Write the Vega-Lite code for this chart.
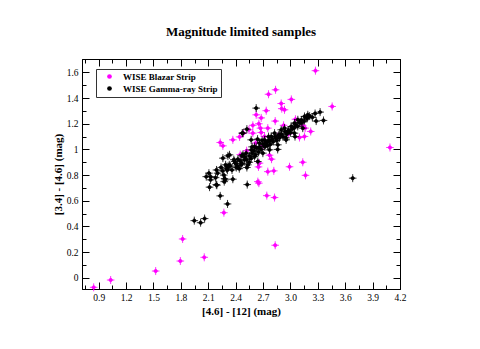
{
  "$schema": "https://vega.github.io/schema/vega-lite/v6.json",
  "width": 318,
  "height": 230,
  "autosize": "none",
  "padding": {"left": 82, "top": 59, "right": 80, "bottom": 60},
  "background": "white",
  "config": {"view": {"stroke": "black", "strokeWidth": 1}, "font": "Liberation Serif"},
  "title": {"text": "Magnitude limited samples", "font": "Liberation Serif", "fontSize": 13, "fontWeight": "bold", "color": "black", "anchor": "middle", "offset": 20},
  "datasets": {
    "blazar": [
      {"x": 0.845, "y": -0.075}, {"x": 1.031, "y": -0.018}, {"x": 1.524, "y": 0.052}, {"x": 1.794, "y": 0.13},
      {"x": 1.819, "y": 0.302}, {"x": 2.056, "y": 0.159}, {"x": 2.271, "y": 0.507}, {"x": 2.654, "y": 0.737},
      {"x": 2.741, "y": 0.64}, {"x": 2.826, "y": 0.625}, {"x": 2.833, "y": 0.253}, {"x": 2.752, "y": 0.827},
      {"x": 2.818, "y": 0.833}, {"x": 2.99, "y": 0.865}, {"x": 3.135, "y": 0.9}, {"x": 3.165, "y": 0.798},
      {"x": 2.65, "y": 0.864}, {"x": 2.793, "y": 0.924}, {"x": 2.771, "y": 0.955}, {"x": 4.09, "y": 1.015},
      {"x": 3.457, "y": 1.335}, {"x": 3.274, "y": 1.614}, {"x": 2.837, "y": 1.465}, {"x": 2.76, "y": 1.43},
      {"x": 3.01, "y": 1.39}, {"x": 2.899, "y": 1.358}, {"x": 2.905, "y": 1.318}, {"x": 2.735, "y": 1.302},
      {"x": 2.935, "y": 1.309}, {"x": 2.625, "y": 1.27}, {"x": 2.68, "y": 1.246}, {"x": 2.833, "y": 1.221},
      {"x": 3.055, "y": 1.235}, {"x": 2.654, "y": 1.2}, {"x": 2.588, "y": 1.188}, {"x": 2.672, "y": 1.166},
      {"x": 2.752, "y": 1.166}, {"x": 3.161, "y": 1.166}, {"x": 3.222, "y": 1.14}, {"x": 3.099, "y": 1.093},
      {"x": 2.925, "y": 1.188}, {"x": 2.231, "y": 1.054}, {"x": 2.26, "y": 1.028}, {"x": 2.369, "y": 1.075},
      {"x": 2.443, "y": 1.098}, {"x": 2.486, "y": 1.127}, {"x": 2.545, "y": 1.153}, {"x": 2.588, "y": 1.127},
      {"x": 2.68, "y": 1.132}, {"x": 2.716, "y": 1.101}, {"x": 3.135, "y": 1.184}, {"x": 3.154, "y": 1.101},
      {"x": 2.661, "y": 0.893}, {"x": 2.643, "y": 0.749}, {"x": 2.52, "y": 0.99}, {"x": 2.62, "y": 1.05},
      {"x": 2.86, "y": 1.1}, {"x": 2.98, "y": 1.12}, {"x": 2.45, "y": 0.96}, {"x": 2.7, "y": 1.03}
    ],
    "gamma": [
      {"x": 3.682, "y": 0.776}, {"x": 1.947, "y": 0.445}, {"x": 2.016, "y": 0.429}, {"x": 2.06, "y": 0.461},
      {"x": 2.231, "y": 0.638}, {"x": 2.311, "y": 0.575}, {"x": 2.114, "y": 0.706}, {"x": 2.188, "y": 0.726},
      {"x": 2.275, "y": 0.749}, {"x": 2.369, "y": 0.768}, {"x": 2.527, "y": 0.726}, {"x": 2.107, "y": 0.815},
      {"x": 2.125, "y": 0.788}, {"x": 2.202, "y": 0.815}, {"x": 2.257, "y": 0.833}, {"x": 2.24, "y": 0.86},
      {"x": 2.29, "y": 0.88}, {"x": 2.34, "y": 0.87}, {"x": 2.31, "y": 0.84}, {"x": 2.407, "y": 0.859},
      {"x": 2.523, "y": 0.859}, {"x": 2.625, "y": 1.322}, {"x": 3.325, "y": 1.291}, {"x": 3.362, "y": 1.226},
      {"x": 3.282, "y": 1.221}, {"x": 3.19, "y": 1.252}, {"x": 2.479, "y": 1.127}, {"x": 2.315, "y": 0.95},
      {"x": 2.078, "y": 0.788}, {"x": 2.125, "y": 0.763}, {"x": 2.194, "y": 0.721}, {"x": 2.279, "y": 0.773},
      {"x": 2.286, "y": 0.763}, {"x": 2.315, "y": 0.867}, {"x": 2.388, "y": 0.906}, {"x": 2.424, "y": 0.924},
      {"x": 2.333, "y": 0.958}, {"x": 2.468, "y": 0.95}, {"x": 2.516, "y": 0.971}, {"x": 2.571, "y": 0.997},
      {"x": 2.607, "y": 1.023}, {"x": 2.643, "y": 0.906}, {"x": 2.533, "y": 0.88}, {"x": 2.661, "y": 1.049},
      {"x": 2.716, "y": 1.075}, {"x": 2.752, "y": 1.062}, {"x": 2.79, "y": 1.101}, {"x": 2.826, "y": 1.127},
      {"x": 2.844, "y": 1.088}, {"x": 2.88, "y": 1.114}, {"x": 2.899, "y": 1.153}, {"x": 2.935, "y": 1.166},
      {"x": 2.971, "y": 1.14}, {"x": 3.008, "y": 1.179}, {"x": 3.044, "y": 1.205}, {"x": 3.081, "y": 1.231},
      {"x": 3.118, "y": 1.205}, {"x": 3.154, "y": 1.257}, {"x": 3.19, "y": 1.27}, {"x": 3.135, "y": 1.166},
      {"x": 3.044, "y": 1.127}, {"x": 2.953, "y": 1.075}, {"x": 2.862, "y": 1.036}, {"x": 2.771, "y": 0.997},
      {"x": 2.698, "y": 0.971}, {"x": 2.607, "y": 0.945}, {"x": 2.497, "y": 0.919}, {"x": 2.472, "y": 1.127},
      {"x": 2.523, "y": 1.158}, {"x": 2.57, "y": 1.075}, {"x": 2.26, "y": 0.932}, {"x": 2.19, "y": 0.84},
      {"x": 2.46, "y": 0.88}, {"x": 2.3, "y": 0.85}, {"x": 2.33, "y": 0.88}, {"x": 2.36, "y": 0.84},
      {"x": 2.4, "y": 0.89}, {"x": 2.42, "y": 0.87}, {"x": 2.45, "y": 0.91}, {"x": 2.47, "y": 0.89},
      {"x": 2.5, "y": 0.94}, {"x": 2.52, "y": 0.92}, {"x": 2.55, "y": 0.95}, {"x": 2.57, "y": 0.93},
      {"x": 2.58, "y": 0.97}, {"x": 2.6, "y": 0.99}, {"x": 2.62, "y": 0.96}, {"x": 2.63, "y": 1.01},
      {"x": 2.65, "y": 0.98}, {"x": 2.66, "y": 1.02}, {"x": 2.68, "y": 1.0}, {"x": 2.7, "y": 1.04},
      {"x": 2.72, "y": 1.02}, {"x": 2.73, "y": 1.05}, {"x": 2.75, "y": 1.03}, {"x": 2.77, "y": 1.07},
      {"x": 2.78, "y": 1.04}, {"x": 2.8, "y": 1.08}, {"x": 2.81, "y": 1.06}, {"x": 2.83, "y": 1.1},
      {"x": 2.85, "y": 1.07}, {"x": 2.87, "y": 1.11}, {"x": 2.88, "y": 1.09}, {"x": 2.9, "y": 1.12},
      {"x": 2.92, "y": 1.1}, {"x": 2.94, "y": 1.14}, {"x": 2.96, "y": 1.12}, {"x": 2.98, "y": 1.15},
      {"x": 3.0, "y": 1.13}, {"x": 3.02, "y": 1.16}, {"x": 3.04, "y": 1.17}, {"x": 3.06, "y": 1.19},
      {"x": 3.08, "y": 1.18}, {"x": 3.1, "y": 1.21}, {"x": 3.12, "y": 1.23}, {"x": 3.15, "y": 1.22},
      {"x": 3.18, "y": 1.24}, {"x": 3.21, "y": 1.26}, {"x": 3.24, "y": 1.25}, {"x": 3.27, "y": 1.28},
      {"x": 2.69, "y": 1.07}, {"x": 2.76, "y": 1.1}, {"x": 2.95, "y": 1.09}, {"x": 2.58, "y": 1.02},
      {"x": 2.48, "y": 0.96}, {"x": 2.38, "y": 0.92}, {"x": 2.27, "y": 0.8}, {"x": 2.18, "y": 0.78},
      {"x": 2.44, "y": 0.85}, {"x": 2.55, "y": 0.9}, {"x": 2.86, "y": 1.0}, {"x": 3.05, "y": 1.1},
      {"x": 2.64, "y": 1.08}
    ]
  },
  "resolve": {"axis": {"x": "independent", "y": "independent"}},
  "layer": [
    {
      "data": {"name": "blazar"},
      "mark": {"type": "point", "shape": "M-0.95,0L0.95,0M0,-1L0,1M-0.42,0A0.42,0.42 0 1,0 0.42,0A0.42,0.42 0 1,0 -0.42,0Z", "filled": true, "size": 64, "stroke": "#ff00ff", "strokeWidth": 0.8, "opacity": 1},
      "encoding": {
        "x": {"field": "x", "type": "quantitative", "scale": {"domain": [0.717, 4.2], "nice": false, "zero": false},
          "axis": {"orient": "bottom", "values": [0.75,0.9,1.05,1.2,1.35,1.5,1.65,1.8,1.95,2.1,2.25,2.4,2.55,2.7,2.85,3,3.15,3.3,3.45,3.6,3.75,3.9,4.05,4.2],
            "format": ".1f",
            "labelExpr": "abs(datum.value*10/3-round(datum.value*10/3))<0.01 ? datum.label : ''",
            "tickSize": {"condition": {"test": "abs(datum.value*10/3-round(datum.value*10/3))<0.01", "value": -7}, "value": -4},
            "tickColor": "black", "domainColor": "black", "grid": false,
            "labelFont": "Liberation Serif", "labelFontSize": 9.5, "labelColor": "black", "labelPadding": 10, "labelFlush": false, "labelOverlap": false,
            "title": "[4.6] - [12] (mag)", "titleFont": "Liberation Serif", "titleFontSize": 11, "titleFontWeight": "bold", "titleColor": "black", "titlePadding": 1}},
        "y": {"field": "y", "type": "quantitative", "scale": {"domain": [-0.088, 1.705], "nice": false, "zero": false},
          "axis": {"orient": "left", "values": [0,0.1,0.2,0.3,0.4,0.5,0.6,0.7,0.8,0.9,1,1.1,1.2,1.3,1.4,1.5,1.6],
            "format": "~g",
            "labelExpr": "abs(datum.value*5-round(datum.value*5))<0.01 ? datum.label : ''",
            "tickSize": {"condition": {"test": "abs(datum.value*5-round(datum.value*5))<0.01", "value": -7}, "value": -4},
            "tickColor": "black", "domainColor": "black", "grid": false,
            "labelFont": "Liberation Serif", "labelFontSize": 9.5, "labelColor": "black", "labelPadding": 11, "labelFlush": false, "labelOverlap": false,
            "title": "[3.4] - [4.6] (mag)", "titleFont": "Liberation Serif", "titleFontSize": 11, "titleFontWeight": "bold", "titleColor": "black", "titlePadding": 3}},
        "color": {"datum": "WISE Blazar Strip", "type": "nominal",
          "scale": {"domain": ["WISE Blazar Strip", "WISE Gamma-ray Strip"], "range": ["#ff00ff", "#000000"]},
          "legend": {"orient": "none", "legendX": 14, "legendY": 10, "title": null, "strokeColor": "#333333", "fillColor": "white", "padding": 3,
            "symbolType": "circle", "symbolSize": 22, "symbolStrokeWidth": 0, "symbolOpacity": 1, "symbolOffset": 6, "labelOffset": 9, "rowPadding": 2,
            "labelFont": "Liberation Serif", "labelFontSize": 9, "labelFontWeight": "bold", "labelColor": "black"}}
      }
    },
    {
      "data": {"name": "gamma"},
      "mark": {"type": "point", "shape": "M-0.95,0L0.95,0M0,-1L0,1M-0.42,0A0.42,0.42 0 1,0 0.42,0A0.42,0.42 0 1,0 -0.42,0Z", "filled": true, "size": 64, "stroke": "#000000", "strokeWidth": 0.8, "opacity": 1},
      "encoding": {
        "x": {"field": "x", "type": "quantitative",
          "axis": {"orient": "top", "values": [0.75,0.9,1.05,1.2,1.35,1.5,1.65,1.8,1.95,2.1,2.25,2.4,2.55,2.7,2.85,3,3.15,3.3,3.45,3.6,3.75,3.9,4.05,4.2],
            "labels": false, "title": null, "grid": false, "tickColor": "black", "domainColor": "black",
            "tickSize": {"condition": {"test": "abs(datum.value*10/3-round(datum.value*10/3))<0.01", "value": -7}, "value": -4}}},
        "y": {"field": "y", "type": "quantitative",
          "axis": {"orient": "right", "values": [0,0.1,0.2,0.3,0.4,0.5,0.6,0.7,0.8,0.9,1,1.1,1.2,1.3,1.4,1.5,1.6],
            "labels": false, "title": null, "grid": false, "tickColor": "black", "domainColor": "black",
            "tickSize": {"condition": {"test": "abs(datum.value*5-round(datum.value*5))<0.01", "value": -7}, "value": -4}}},
        "color": {"datum": "WISE Gamma-ray Strip", "type": "nominal"}
      }
    }
  ]
}
